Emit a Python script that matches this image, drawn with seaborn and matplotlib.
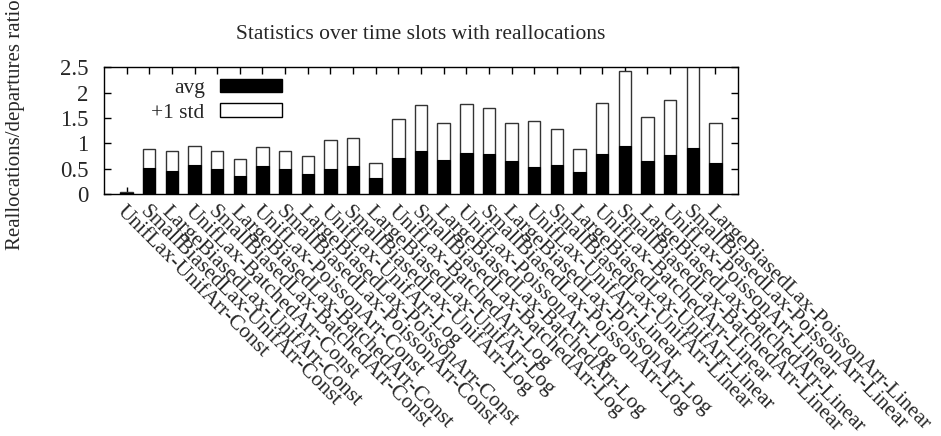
import pandas as pd
import matplotlib
matplotlib.use("Agg")
import matplotlib.pyplot as plt
from matplotlib.patches import Patch
import seaborn as sns

lax = ["UnifLax", "SmallBiasedLax", "LargeBiasedLax"]
arr = ["UnifArr", "BatchedArr", "PoissonArr"]
growth = ["Const", "Log", "Linear"]
labels = [l + "-" + a + "-" + g for g in growth for a in arr for l in lax]

avg = [0.02, 0.52, 0.46, 0.57, 0.50, 0.36, 0.55, 0.49, 0.39,
       0.49, 0.55, 0.31, 0.70, 0.85, 0.67, 0.80, 0.79, 0.65,
       0.54, 0.57, 0.43, 0.79, 0.94, 0.65, 0.77, 0.91, 0.61]
avg_plus_std = [0.03, 0.89, 0.84, 0.95, 0.85, 0.69, 0.93, 0.84, 0.74,
                1.07, 1.10, 0.61, 1.48, 1.76, 1.39, 1.77, 1.69, 1.39,
                1.44, 1.29, 0.88, 1.79, 2.43, 1.51, 1.85, 2.60, 1.39]

df = pd.DataFrame({"config": labels, "avg": avg, "top": avg_plus_std})

sns.set_style("ticks")
plt.rcParams["font.family"] = ["Liberation Serif", "DejaVu Serif"]
plt.rcParams["font.size"] = 16

fig = plt.figure(figsize=(9.41, 4.36), dpi=100)
ax = fig.add_axes([0.1105, 0.555, 0.6738, 0.291])

sns.barplot(data=df, x="config", y="top", order=labels, color="white",
            edgecolor="#333333", linewidth=1, width=0.55, saturation=1, ax=ax)
sns.barplot(data=df, x="config", y="avg", order=labels, color="black",
            edgecolor="black", linewidth=0.8, width=0.55, saturation=1, ax=ax)

ax.set_xlim(-1, 27)
ax.set_ylim(0, 2.5)
ax.set_yticks([0, 0.5, 1, 1.5, 2, 2.5])
ax.set_yticklabels(["0", "0.5", "1", "1.5", "2", "2.5"], fontsize=16.5)
ax.set_xticks(range(len(labels)))
ax.set_xticklabels(labels, rotation=-45, ha="left", va="top",
                   rotation_mode="anchor", fontsize=15.5)
ax.tick_params(axis="both", direction="in", top=True, right=True,
               length=5, width=1, color="black")
ax.tick_params(axis="x", pad=6)
ax.tick_params(axis="y", pad=11)
for s in ax.spines.values():
    s.set_visible(True)
    s.set_color("black")
    s.set_linewidth(1)
ax.set_xlabel("")
ax.set_ylabel("Reallocations/departures ratio", fontsize=15)
ax.yaxis.set_label_coords(-0.124, 0.545)
ax.set_title("Statistics over time slots with reallocations", fontsize=15.5, pad=20)

handles = [Patch(facecolor="black", edgecolor="black", label="avg"),
           Patch(facecolor="white", edgecolor="black", label="+1 std")]
ax.legend(handles=handles, loc="upper right", bbox_to_anchor=(0.281, 0.91),
          frameon=False, markerfirst=False, fontsize=15.5, borderpad=0,
          borderaxespad=0, handlelength=2.9, handleheight=0.6,
          labelspacing=0.25, handletextpad=0.7)

fig.savefig("out.png", dpi=100)
